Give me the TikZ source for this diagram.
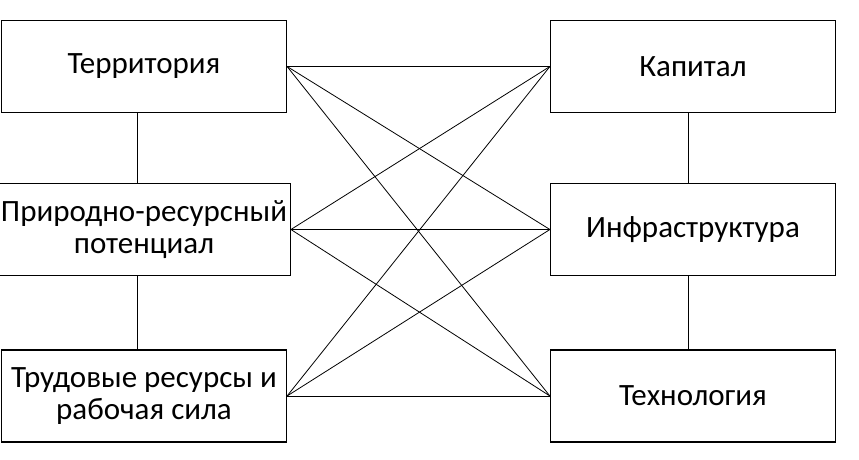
\documentclass[tikz,border=0pt]{standalone}
\usepackage{fontspec}
\setmainfont{Carlito}
\usetikzlibrary{positioning}
\tikzset{
	box/.style={
		draw,
		line width=1.2pt,
		minimum width=285pt,
		minimum height=92pt,
		align=center,
		font=\fontsize{31}{32}\selectfont
	},
	link/.style={
		line width=0.8pt
	}
}

\begin{document}
\begin{tikzpicture}[x=1pt,y=-1pt]
		\useasboundingbox (0,0) rectangle (859,460);
		\node[box] (terr) at (144,66.5) {Территория};
		\node[box] (res) at (144,229.5) {Природно-ресурсный\\потенциал};
		\node[box] (lab) at (144,396) {Трудовые ресурсы и\\рабочая сила};
		\node[box] (cap) at (693,66.5) {Капитал};
		\node[box] (inf) at (693,229.5) {Инфраструктура};
		\node[box] (tech) at (693,396) {Технология};
		
		\draw[link] ([xshift=-7pt]terr.south) -- ([xshift=-7pt]res.north);
		\draw[link] ([xshift=-7pt]res.south) -- ([xshift=-7pt]lab.north);
		\draw[link] ([xshift=-5pt]cap.south) -- ([xshift=-5pt]inf.north);
		\draw[link] ([xshift=-5pt]inf.south) -- ([xshift=-5pt]tech.north);
		
		\foreach \a in {terr, res, lab}
			\foreach \b in {cap, inf, tech}
				\draw[link] (\a.east) -- (\b.west);
\end{tikzpicture}
\end{document}
